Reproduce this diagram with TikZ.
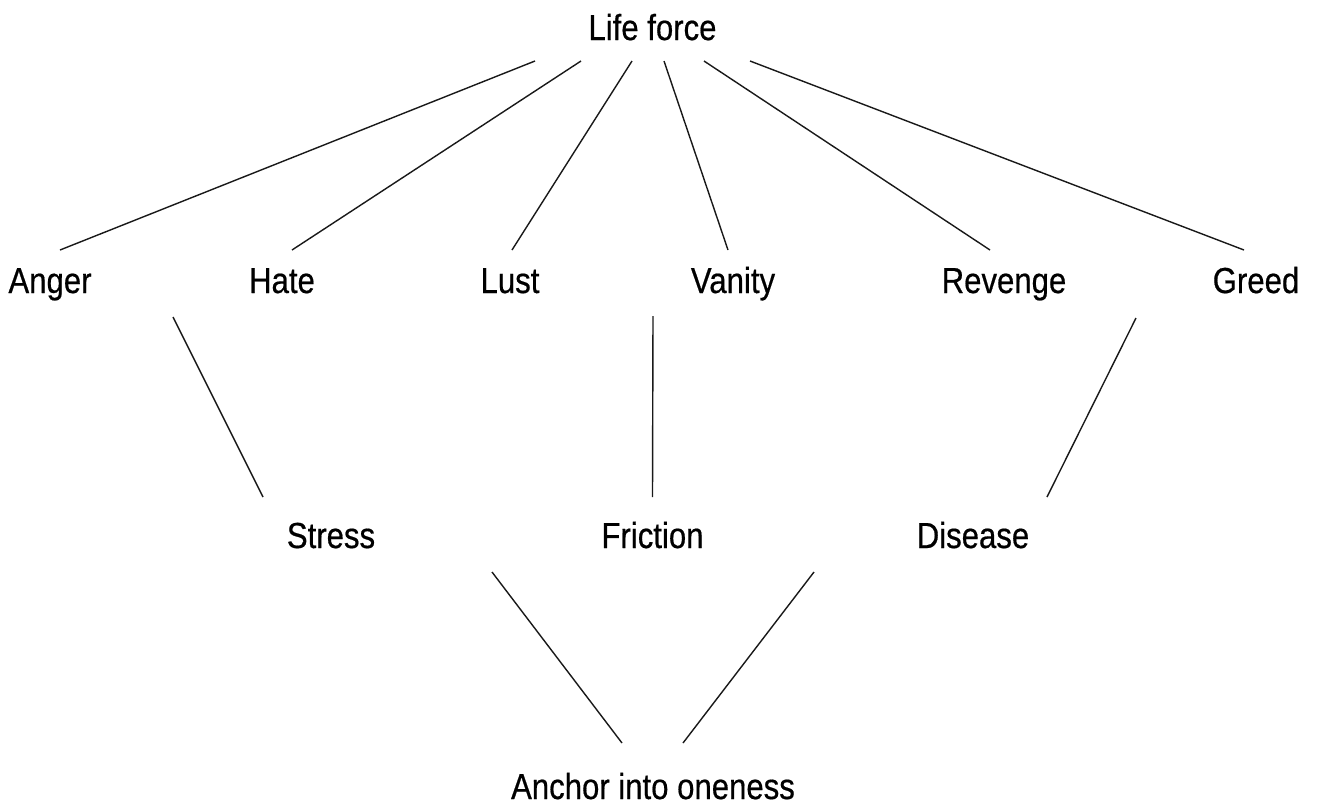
\documentclass[tikz,border=0pt]{standalone}
\usepackage{fontspec}
\setmainfont{Liberation Sans}[FakeStretch=0.86,FakeBold=0.5]
\usepackage{tikz}
\usetikzlibrary{calc}

\begin{document}
\begin{tikzpicture}[
  word/.style={anchor=base, inner sep=0pt,
               font=\fontsize{20.6}{24}\selectfont},
  link/.style={line width=0.8pt, black!90},
]
\useasboundingbox (0,0) rectangle (26.4,-16.18);

% top
\node[word] (life)    at (13.05,-0.80)  {Life force};
% the six passions
\node[word] (anger)   at (1.00,-5.86)   {Anger};
\node[word] (hate)    at (5.64,-5.86)   {Hate};
\node[word] (lust)    at (10.20,-5.86)  {Lust};
\node[word] (vanity)  at (14.66,-5.86)  {Vanity};
\node[word] (revenge) at (20.08,-5.86)  {Revenge};
\node[word] (greed)   at (25.12,-5.86)  {Greed};
% effects
\node[word] (stress)  at (6.62,-10.96)  {Stress};
\node[word] (fric)    at (13.05,-10.96) {Friction};
\node[word] (disease) at (19.46,-10.96) {Disease};
% bottom
\node[word] (anchor)  at (13.06,-15.98) {Anchor into oneness};

\draw[link] ([shift={(-2.35,-0.42)}]life.base) -- ([shift={(0.20,0.86)}]anger.base);
\draw[link] ([shift={(-1.43,-0.42)}]life.base) -- ([shift={(0.20,0.86)}]hate.base);
\draw[link] ([shift={(-0.41,-0.42)}]life.base) -- ([shift={(0.04,0.86)}]lust.base);
\draw[link] ([shift={(0.23,-0.42)}]life.base)  -- ([shift={(-0.10,0.86)}]vanity.base);
\draw[link] ([shift={(1.03,-0.42)}]life.base)  -- ([shift={(-0.28,0.86)}]revenge.base);
\draw[link] ([shift={(1.95,-0.42)}]life.base)  -- ([shift={(-0.24,0.86)}]greed.base);

\draw[link] ([shift={(2.46,-0.48)}]anger.base)  -- ([shift={(-1.36,1.02)}]stress.base);
\draw[link] ([shift={(-1.60,-0.46)}]vanity.base) -- ([shift={(0,1.02)}]fric.base);
\draw[link] ([shift={(-2.40,-0.50)}]greed.base)  -- ([shift={(1.48,1.02)}]disease.base);

\draw[link] ([shift={(3.22,-0.48)}]stress.base)   -- ([shift={(-0.62,1.12)}]anchor.base);
\draw[link] ([shift={(-3.18,-0.48)}]disease.base) -- ([shift={(0.60,1.12)}]anchor.base);
\end{tikzpicture}
\end{document}
